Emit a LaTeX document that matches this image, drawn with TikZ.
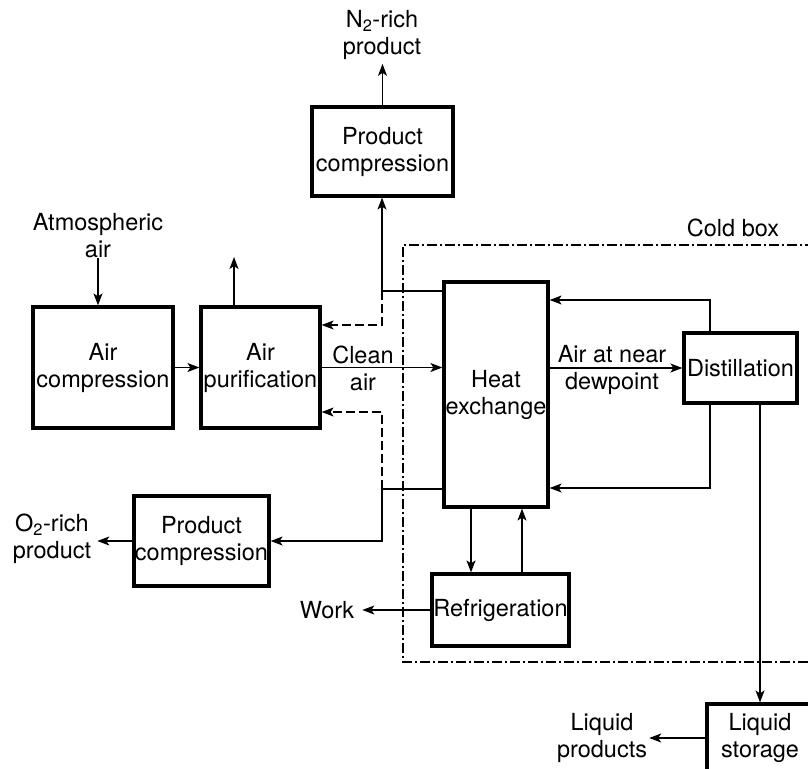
\documentclass[tikz,border=0pt]{standalone}
\usepackage{fontspec}
\setmainfont{TeX Gyre Heros}
\usetikzlibrary{arrows.meta}
\begin{document}
\begin{tikzpicture}[x=1pt,y=-1pt,
  every node/.style={font=\fontsize{23.5}{27}\selectfont},
  box/.style={draw, line width=3.2pt, inner sep=0pt, align=center},
  lbl/.style={inner sep=0pt, align=center},
  flow/.style={line width=1.3pt, -{Stealth[length=12pt,width=9pt,inset=3pt]}},
  dflow/.style={flow, dash pattern=on 9pt off 4pt},
  coldbox/.style={line width=1.2pt, dash pattern=on 10pt off 3pt on 2pt off 3pt}]
\useasboundingbox (0,0) rectangle (808,768);
% boxes
\node[box, minimum width=141pt, minimum height=89pt] (pct) at (382.5,151.5) {Product\\compression};
\node[box, minimum width=140pt, minimum height=121pt] (ac) at (103,367.5) {Air\\compression};
\node[box, minimum width=119pt, minimum height=121pt] (ap) at (260.5,367.5) {Air\\purification};
\node[box, minimum width=104pt, minimum height=225pt] (hx) at (496,394.5) {Heat\\exchange};
\node[box, minimum width=113pt, minimum height=70pt] (ds) at (740.5,368) {Distillation};
\node[box, minimum width=135pt, minimum height=90pt] (pcb) at (201.5,541) {Product\\compression};
\node[box, minimum width=137pt, minimum height=72pt] (rf) at (500.5,610) {Refrigeration};
\node[box, minimum width=106pt, minimum height=68pt] (ls) at (760,738) {Liquid\\storage};
% labels
\node[lbl] (n2) at (382,35) {N\textsubscript{2}-rich\\product};
\node[lbl] (atm) at (98,236) {Atmospheric\\air};
\node[lbl] (o2) at (52,539) {O\textsubscript{2}-rich\\product};
\node[lbl] (work) at (327,610) {Work};
\node[lbl] (lp) at (602,738) {Liquid\\products};
\node[lbl] (cb) at (733,228) {Cold box};
\node[lbl] (cl) at (363,368.5) {Clean\\air};
\node[lbl] (adp) at (612,369.5) {Air at near\\dewpoint};
% junction coordinates
\coordinate (j1) at (382,291);
\coordinate (j1d) at (382,325);
\coordinate (j2) at (382,489);
\coordinate (j2u) at (382,412);
\coordinate (j2d) at (382,541);
\coordinate (d1) at (710,300);
\coordinate (d2) at (710,488);
\coordinate (vent) at (234,257);
\coordinate (rx1) at (471,550);
\coordinate (rx2) at (522,550);
% cold box
\draw[coldbox] (815,245) -- (403,245) -- (403,662) -- (815,662);
% connectors
\draw[flow] (atm.south) -- (atm.south |- ac.north);
\draw[flow] (ac.east) -- (ap.west);
\draw[flow] (vent |- ap.north) -- (vent);
\draw[flow] (ap.east) -- (ap.east -| hx.west);
\draw[flow] (hx.east |- ds.west) -- (ds.west);
\draw[flow] (hx.west |- j1) -- (j1) -- (j1 |- pct.south);
\draw[dflow] (j1) -- (j1d) -- (j1d -| ap.east);
\draw[flow] (hx.west |- j2) -- (j2) -- (j2d) -- (j2d -| pcb.east);
\draw[dflow] (j2) -- (j2u) -- (j2u -| ap.east);
\draw[flow, shorten >=4pt] (pct.north) -- (pct.north |- n2.south);
\draw[flow, shorten >=6pt] (pcb.west) -- (pcb.west -| o2.east);
\draw[flow, shorten >=8pt] (rf.west) -- (rf.west -| work.east);
\draw[flow, shorten >=2pt] (ls.west |- lp) -- (lp.east);
\draw[flow] (ds.south -| ls.north) -- (ls.north);
\draw[flow] (ds.north -| d1) -- (d1) -- (d1 -| hx.east);
\draw[flow] (ds.south -| d2) -- (d2) -- (d2 -| hx.east);
\draw[flow] (hx.south -| rx1) -- (rf.north -| rx1);
\draw[flow] (rf.north -| rx2) -- (hx.south -| rx2);
\end{tikzpicture}
\end{document}
